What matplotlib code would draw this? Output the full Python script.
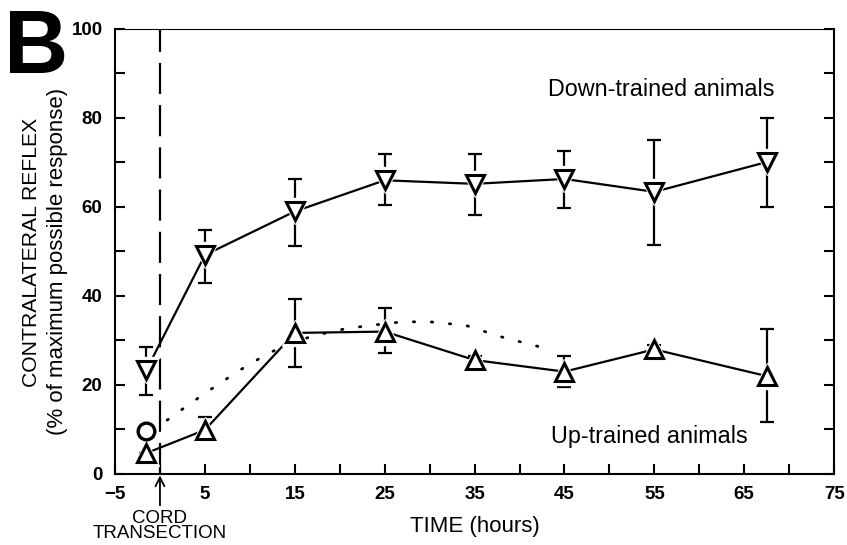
import numpy as np
import matplotlib
matplotlib.use("Agg")
import matplotlib.pyplot as plt
from matplotlib.ticker import MultipleLocator

plt.rcParams['font.family'] = ['Liberation Sans', 'DejaVu Sans']

# down-trained animals
down_t = [-1.5, 5, 15, 25, 35, 45, 55, 67.5]
down_y = [23.4, 49.2, 59, 66, 65.2, 66.3, 63.4, 70.1]
down_hi = [28.5, 54.8, 66.2, 72, 71.9, 72.6, 75, 80]
down_lo = [17.8, 43, 51.3, 60.5, 58.2, 59.8, 51.5, 60]

# up-trained animals
up_t = [-1.5, 5, 15, 25, 35, 45, 55, 67.5]
up_y = [4.7, 9.9, 31.7, 32, 25.6, 23, 28, 22]
up_hi = [4.7, 12.8, 39.3, 37.3, 26.5, 26.5, 29, 32.5]
up_lo = [4.7, 7.2, 24, 27.2, 25, 19.6, 27, 11.7]

# open circle before transection
circ_t = [-1.5]
circ_y = [9.6]

# dotted curve
dot_t = [0.8, 3, 5.2, 7.5, 9.8, 12, 14, 17, 20, 23, 27, 30, 34, 38, 42, 43.5]
dot_y = [12.1, 15.3, 18.4, 21.5, 24.5, 27, 29, 31, 32.4, 33.3, 34.2, 34.2, 33.4, 30.8, 28.7, 28]

xticks = [-5, 5, 15, 25, 35, 45, 55, 65, 75]
yticks = [0, 20, 40, 60, 80, 100]

fig = plt.figure(figsize=(8.47, 5.45), dpi=100)
ax = fig.add_axes([0.1358, 0.1303, 0.849, 0.8165])

ax.axvline(0, color='black', lw=1.6, dashes=(14, 5))

ax.plot(dot_t, dot_y, color='black', lw=2, ls=(0, (0.5, 6)),
        dash_capstyle='round')

for t, y, hi, lo, mk in [(down_t, down_y, down_hi, down_lo, 'v'),
                         (up_t, up_y, up_hi, up_lo, '^')]:
    y = np.array(y)
    err = [y - np.array(lo), np.array(hi) - y]
    ax.errorbar(t, y, yerr=err, fmt='none', ecolor='black', elinewidth=1.6,
                capsize=5, capthick=1.6)
    ax.plot(t, y, color='black', lw=1.6)
    ax.plot(t, y, ls='none', marker=mk, ms=19, mfc='white', mec='white', zorder=3)
    ax.plot(t, y, ls='none', marker=mk, ms=12.5, mfc='white', mec='black',
            mew=2.2, zorder=4)

ax.plot(circ_t, circ_y, ls='none', marker='o', ms=12, mfc='white', mec='black',
        mew=2.4, zorder=4)

ax.set_xlim(-5, 75)
ax.set_ylim(0, 100)
ax.set_xticks(xticks)
ax.set_yticks(yticks)
ax.xaxis.set_minor_locator(MultipleLocator(5))
ax.yaxis.set_minor_locator(MultipleLocator(10))
ax.set_xticklabels(['\u22125' if v < 0 else str(v) for v in xticks])
ax.tick_params(which='both', direction='in', width=1.5, top=False, right=True,
               labelsize=13.5, pad=9, length=7)
for lab in ax.get_xticklabels() + ax.get_yticklabels():
    lab.set_fontweight('bold')
for s in ax.spines.values():
    s.set_linewidth(1.5)
ax.spines['top'].set_linewidth(0.8)

ax.set_xlabel('TIME (hours)', fontsize=16, labelpad=9)
fig.text(32 / 847, 1 - 252 / 545, 'CONTRALATERAL REFLEX', rotation=90,
         ha='center', va='center', fontsize=15.2)
fig.text(58 / 847, 1 - 261 / 545, '(% of maximum possible response)', rotation=90,
         ha='center', va='center', fontsize=16)

ax.text(0.602, 0.864, 'Down-trained animals', transform=ax.transAxes, fontsize=16.8,
        va='center')
ax.text(0.606, 0.085, 'Up-trained animals', transform=ax.transAxes, fontsize=16.8,
        va='center')

ax.annotate('CORD\nTRANSECTION', xy=(0, 0), xycoords='data',
            xytext=(0, -8.0), textcoords='data', ha='center', va='top',
            fontsize=13.5, linespacing=0.9, annotation_clip=False,
            arrowprops=dict(arrowstyle='->', color='black', lw=1.3,
                            shrinkA=1, shrinkB=1, mutation_scale=16))

fig.text(0.005, 0.985, 'B', fontsize=64, fontweight='bold', va='top', ha='left')

fig.savefig('out.png', dpi=100)
